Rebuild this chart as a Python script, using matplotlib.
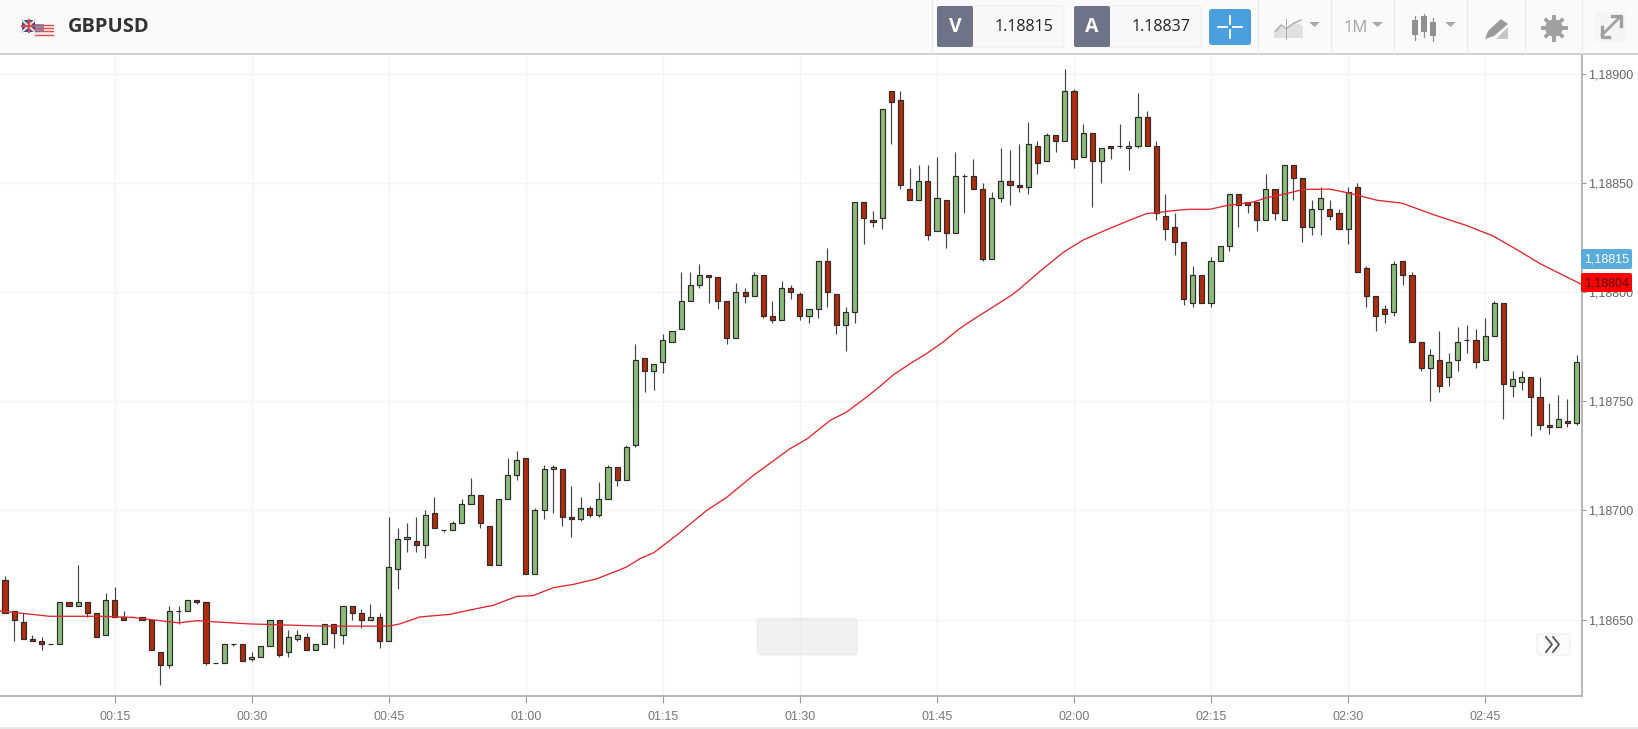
import matplotlib
matplotlib.use("Agg")
import matplotlib.pyplot as plt
from matplotlib.patches import Rectangle, FancyBboxPatch, Circle, Polygon

plt.rcParams['font.family'] = ['Liberation Sans', 'DejaVu Sans']

# candle values in points (0.00001) above 1.18000, one candle per minute from 00:03
opens = [668,654,649,641,640,639,639,658,656,658,
         653,643,659,651,651,651,650,635,629,654,
         654,659,658,630,630,639,639,632,633,638,
         650,635,641,642,636,639,648,643,656,653,
         650,651,640,673,687,686,684,699,691,691,
         694,703,707,693,675,705,716,724,671,700,
         719,719,697,696,701,698,705,720,714,730,
         770,764,768,777,783,796,803,808,807,796,
         779,800,798,808,789,787,802,799,789,792,
         814,799,785,791,841,833,834,892,888,847,
         842,851,828,842,827,853,853,847,815,843,
         851,849,848,867,860,872,869,892,862,873,
         860,867,867,866,867,880,867,835,830,823,
         795,808,795,814,821,845,841,841,833,847,
         833,858,852,830,838,838,836,829,848,811,
         798,792,791,814,808,777,765,769,761,769,
         778,778,769,780,795,757,759,761,752,739,
         738,741,740]
highs = [670,654,653,643,642,639,658,658,675,658,
         653,662,665,654,651,651,650,635,656,656,
         659,659,658,630,639,639,639,635,638,650,
         650,645,645,644,639,648,648,656,656,655,
         657,653,697,692,694,697,700,706,691,695,
         705,715,707,693,705,724,727,724,701,721,
         721,719,711,706,702,713,721,720,730,776,
         770,767,781,782,809,809,813,808,807,796,
         804,802,809,808,796,805,803,800,792,814,
         820,799,793,841,841,837,884,892,892,857,
         858,858,862,842,864,854,861,850,846,866,
         865,868,878,869,873,872,902,893,877,873,
         866,867,877,869,891,883,869,845,836,823,
         812,808,816,821,845,845,841,841,854,847,
         858,858,852,842,848,842,838,848,850,812,
         798,794,814,814,809,777,774,782,772,784,
         785,783,788,796,795,764,764,761,761,749,
         753,751,771]
lows = [653,640,641,640,636,639,639,656,656,651,
        642,643,651,650,651,650,636,620,628,648,
        654,657,629,630,630,638,631,631,633,638,
        633,633,640,636,636,639,637,639,650,646,
        650,637,640,664,681,681,678,692,690,691,
        694,703,692,675,675,705,714,671,671,696,
        699,693,688,695,697,697,705,711,714,729,
        754,755,763,777,783,796,802,795,792,776,
        779,795,798,788,786,787,797,787,786,788,
        793,781,773,786,822,830,829,868,847,842,
        842,824,828,820,827,836,847,814,815,841,
        840,846,845,854,860,864,869,857,862,839,
        850,861,866,856,866,867,833,824,817,794,
        793,795,793,814,819,830,836,828,833,833,
        833,842,823,826,826,833,829,822,809,793,
        782,786,789,803,777,764,750,754,757,764,
        772,765,769,780,742,752,755,734,737,735,
        738,738,739]
closes = [653,650,641,640,639,639,658,656,658,653,
          642,659,651,650,651,650,636,629,654,654,
          659,658,630,630,639,639,631,633,638,650,
          634,642,643,636,639,648,644,656,653,650,
          651,640,674,687,688,684,698,692,691,694,
          703,707,694,675,705,716,723,671,700,719,
          720,697,696,701,698,705,720,714,729,769,
          764,767,778,782,796,803,808,807,796,779,
          800,798,808,789,787,802,800,789,792,814,
          800,785,791,841,834,832,884,887,849,842,
          851,826,843,827,853,853,847,815,843,851,
          849,848,868,859,872,869,892,861,873,860,
          866,866,867,867,880,867,836,829,823,797,
          808,795,814,821,845,840,840,833,847,836,
          858,852,830,838,843,835,829,846,809,798,
          789,790,813,808,777,765,771,757,768,777,
          778,768,780,795,758,760,761,752,739,738,
          742,740,768]

# moving average, read at these candle positions (same points as above)
ma_pos = [-0.6,4.9,10.4,14,15.9,18,19,21,22.8,26.8,30.8,34.8,39.6,42,43.2,45.4,48.7,51.6,53.4,56,
          57.8,60,62.2,64.8,68,69.5,71,73.5,76.8,79,81.9,85.9,87.8,90.3,92.1,94.3,95.8,97.2,99.1,100.9,
          102.7,104.5,106,110,110.9,113.3,115.8,118,120.6,123.1,125,126,127.9,129.7,131.9,133.7,135.2,136.6,138.1,139.9,
          142.1,145,146.9,150.2,152.9,156.3,160,162.9,165.8,168,172.6]
ma_pts = [654,651.5,651.5,651,650,649,648.5,649.5,649,648,647.5,647,647,647,648,651.2,652.4,655,656.5,660.6,
          661,664.6,666.1,668.7,674,677.9,680.6,688.6,700,706,716,728.2,732.8,741.2,745,751.9,756.9,762,767.3,771.9,
          777.2,783.3,787.5,798.1,800.9,809.6,818.1,823.8,828.6,832.9,836,836.3,837.3,837.9,837.9,839.6,840.4,841.2,843.2,844.7,
          847,847.1,845.5,842,840.7,835.5,830.4,825.6,818.6,813,803.4]

tick_pos = [12,27,42,57,72,87,102,117,132,147,162]
time_labels = ["00:15","00:30","00:45","01:00","01:15","01:30","01:45","02:00","02:15","02:30","02:45"]
price_ticks = [1.18650,1.18700,1.18750,1.18800,1.18850,1.18900]
symbol = "GBPUSD"
sell_price = "1.18815"
buy_price = "1.18837"

W, H = 1638, 729
fig = plt.figure(figsize=(W/100, H/100), dpi=100, facecolor='white')

# main chart, 0..1582 px across and 54..696 px down
ax = fig.add_axes([0, 1-696/H, 1582/W, (696-54)/H])
base = 1.18
price = lambda p: base + p/1e5

idx = list(range(len(opens)))
for i in idx:
    ax.vlines(i, price(lows[i]), price(highs[i]), color='#444444', lw=0.85, zorder=3)
    up = closes[i] >= opens[i]
    ax.bar(i, price(closes[i])-price(opens[i]), bottom=price(opens[i]), width=0.56,
           color='#8cbb7c' if up else '#b02c0e', edgecolor='#2b2b2b', linewidth=0.85, zorder=4)

ax.plot(ma_pos, [price(p) for p in ma_pts], color='#e0262c', lw=0.95, zorder=5)

ax.set_xlim(-0.547, 172.6)
ax.set_ylim(1.18615, 1.18909)
ax.set_xticks(tick_pos)
ax.set_xticklabels(time_labels)
ax.set_yticks(price_ticks)
ax.set_yticklabels([f"{p:.5f}".replace(".", ",") for p in price_ticks])
ax.yaxis.tick_right()
ax.grid(True, color='#f4f4f4', lw=1.0, zorder=0)
ax.set_axisbelow(True)
ax.tick_params(axis='x', length=5, width=0.8, color='#999999', labelcolor='#777777', labelsize=9, pad=6)
ax.tick_params(axis='y', length=3, width=0.8, color='#999999', labelcolor='#666666', labelsize=9, pad=1.5)
for s in ['top', 'left']:
    ax.spines[s].set_visible(False)
for s in ['right', 'bottom']:
    ax.spines[s].set_color('#b0b0b0')
    ax.spines[s].set_linewidth(1.3)

# toolbar and overlays in pixel coordinates
ui = fig.add_axes([0, 0, 1, 1], zorder=5)
ui.set_xlim(0, W)
ui.set_ylim(H, 0)
ui.axis('off')
ui.patch.set_alpha(0)

def rect(x0, y0, x1, y1, **kw):
    ui.add_patch(Rectangle((x0, y0), x1-x0, y1-y0, **kw))

def rbox(x0, y0, x1, y1, r=2, **kw):
    ui.add_patch(FancyBboxPatch((x0+r, y0+r), x1-x0-2*r, y1-y0-2*r, boxstyle=f"round,pad={r},rounding_size={r}", **kw))

def arrow_down(x0, x1, y0, y1):
    ui.add_patch(Polygon([(x0, y0), (x1, y0), ((x0+x1)/2, y1)], color='#a8a8a8', lw=0))

rect(0, 0, W, 54, color='#fafafa', lw=0)
ui.plot([0, W], [54, 54], color='#c4c4c4', lw=1.1)
ui.plot([0, W], [728, 728], color='#e4e4e4', lw=1.2)
for x in [932, 1258, 1331, 1394, 1467, 1525, 1582]:
    ui.plot([x, x], [0, 53], color='#ececec', lw=0.9)

# flags
rect(22, 20, 35, 32, color='#3d4c8f', lw=0)
ui.plot([22, 35], [20, 32], color='#e8dada', lw=1.6)
ui.plot([22, 35], [32, 20], color='#e8dada', lw=1.6)
ui.plot([28.5, 28.5], [20, 32], color='#d84a4a', lw=1.5)
ui.plot([22, 35], [26, 26], color='#d84a4a', lw=1.5)
rect(35, 24, 53, 36, color='#f6eeee', lw=0)
for y in [25, 28, 31, 34.5]:
    ui.plot([35, 53], [y, y], color='#d9534f', lw=1.0)
rect(35, 24, 44, 31, color='#6a9ad0', lw=0)
ui.text(68, 27, symbol, family=['Open Sans', 'DejaVu Sans'], fontweight='bold', fontsize=14.5, color='#333333', va='center', ha='left')

# bid and ask boxes
for x0, letter, value in [(937, "V", sell_price), (1074, "A", buy_price)]:
    rbox(x0+30, 6, x0+127, 47, r=2, facecolor='#f8f8f8', edgecolor='#eeeeee', lw=0.8)
    rbox(x0, 6, x0+36, 47, r=2, facecolor='#6f7388', edgecolor='none')
    ui.text(x0+18, 27, letter, family=['Open Sans', 'DejaVu Sans'], fontweight='bold', fontsize=14, color='white', ha='center', va='center')
    ui.text(x0+87, 27, value, family=['Open Sans', 'DejaVu Sans'], fontsize=11.5, color='#222222', ha='center', va='center')

# crosshair button
rbox(1209, 9, 1251, 45, r=3, facecolor='#4a9fdc', edgecolor='none')
for xs, ys in [((1218, 1227), (27, 27)), ((1233, 1242), (27, 27)), ((1230, 1230), (16, 24)), ((1230, 1230), (30, 38))]:
    ui.plot(xs, ys, color='white', lw=1.3)

# chart type icon
ui.add_patch(Polygon([(1274, 38), (1274, 30), (1280, 26), (1286, 31), (1295, 22), (1303, 26), (1303, 38)], color='#e0e0e0', lw=0))
ui.plot([1276, 1281, 1286, 1294, 1301], [31, 25, 29, 23, 20], color='#a8a8a8', lw=1.0)
ui.plot([1286, 1286], [19, 39], color='#a8a8a8', lw=0.7)
arrow_down(1309, 1320, 22, 27)

ui.text(1356, 28, "1M", family=['Open Sans', 'DejaVu Sans'], fontsize=12, color='#a4a4a4', ha='center', va='center')
arrow_down(1372, 1383, 22, 27)

# candle icon
for x, y0, y1, t0, t1 in [(1415, 15+5, 15+20, 15+1, 15+25), (1424, 15+1, 15+17, 15-1, 15+22), (1433, 15+7, 15+21, 15+3, 15+26)]:
    ui.plot([x, x], [t0, t1], color='#909090', lw=0.9)
    rect(x-3, y0, x+3, y1, color='#909090', lw=0)
arrow_down(1445, 1456, 22, 27)

# drawing tool icon
ui.add_patch(Polygon([(1485, 39), (1488, 31), (1501, 19), (1508, 24), (1494, 36)], color='#9a9a9a', lw=0))
ui.add_patch(Polygon([(1496, 39), (1508, 27), (1508, 39)], color='#c6c6c6', lw=0))

# gear
for a, b in [(-11.5, 11.5), (11.5, -11.5)]:
    ui.plot([1554+a, 1554+b], [28, 28], color='#a0a0a0', lw=2.6)
    ui.plot([1554, 1554], [28+a, 28+b], color='#a0a0a0', lw=2.6)
    ui.plot([1554-8, 1554+8], [28+a*0.7, 28-a*0.7], color='#a0a0a0', lw=2.6)
ui.add_patch(Circle((1554, 28), 6.5, facecolor='#fafafa', edgecolor='#a0a0a0', lw=3.2))

# expand icon
rect(1595, 12, 1626, 42, color='#f5f5f5', lw=0)
ui.plot([1602, 1619], [35, 18], color='#a0a0a0', lw=2.0)
ui.plot([1602, 1602, 1609], [27, 37, 37], color='#a0a0a0', lw=2.4)
ui.plot([1612, 1621, 1621], [16, 16, 26], color='#a0a0a0', lw=2.4)
rect(1607, 23, 1614, 30, color='#f5f5f5', lw=0)

# scroll handle and jump button
rbox(757, 618, 857, 655, r=3, facecolor='#e4e4e4', edgecolor='#dddddd', lw=0.6, alpha=0.5)
rbox(1537, 634, 1570, 655, r=2, facecolor='#fbfbfb', edgecolor='#eeeeee', lw=0.8)
ui.plot([1546, 1552, 1546], [637, 644.5, 652], color='#555555', lw=1.3)
ui.plot([1553, 1559, 1553], [637, 644.5, 652], color='#555555', lw=1.3)

# current price tags
rbox(1581, 249, 1632, 269, r=2, facecolor='#5aacdc', edgecolor='none')
ui.text(1607, 259.5, "1,18815", fontsize=9, color='white', ha='center', va='center')
rbox(1581, 273, 1632, 292, r=2, facecolor='#ff0000', edgecolor='none')
ui.text(1607, 283, "1,18804", fontsize=9, color='#5a1010', ha='center', va='center')

fig.savefig("out.png", dpi=100)
